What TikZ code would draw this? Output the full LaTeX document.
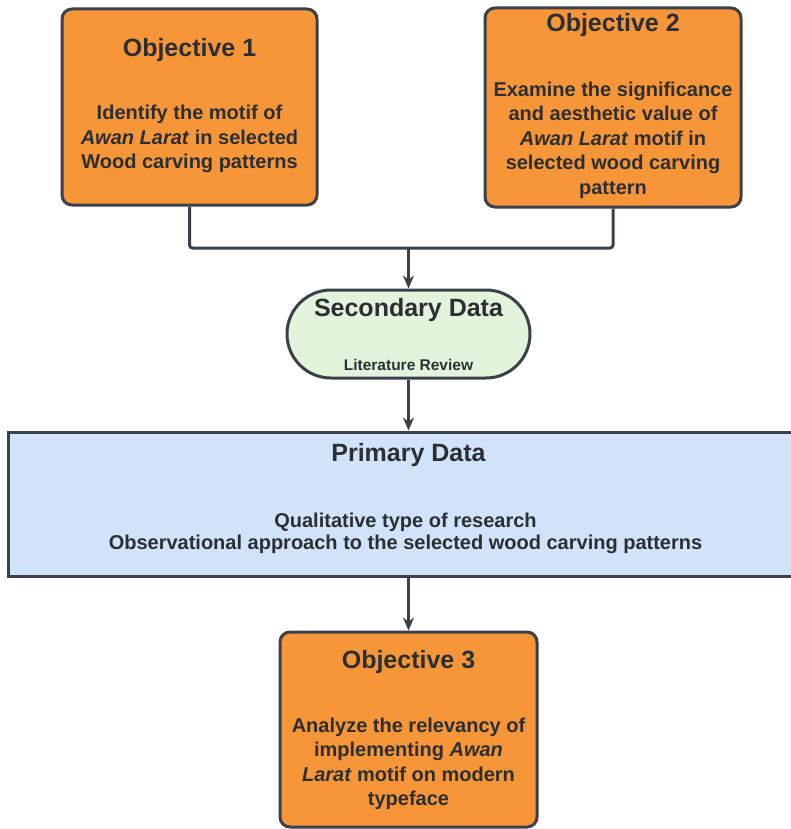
\documentclass[tikz,border=0pt]{standalone}
\usepackage{fontspec}
\setmainfont{Liberation Sans}
\usetikzlibrary{arrows.meta}
\definecolor{boxorange}{HTML}{F79638}
\definecolor{boxgreen}{HTML}{E2F5DC}
\definecolor{boxblue}{HTML}{D0E3F9}
\definecolor{linecol}{HTML}{3B414B}
\definecolor{txtcol}{HTML}{2B2F33}
\begin{document}
\begin{tikzpicture}[x=1pt,y=-1pt,
  objbox/.style={draw=linecol,line width=3pt,fill=boxorange,rounded corners=10pt,inner sep=0pt},
  secbox/.style={draw=linecol,line width=3pt,fill=boxgreen,rounded corners=44pt,inner sep=0pt},
  primbox/.style={draw=linecol,line width=3pt,fill=boxblue,inner sep=0pt},
  titletxt/.style={text=txtcol,font=\fontsize{25}{30}\selectfont\bfseries,inner sep=0pt},
  bodytxt/.style={text=txtcol,font=\fontsize{20}{24.5}\selectfont\bfseries,align=center,inner sep=0pt},
  conn/.style={draw=linecol,line width=3pt,rounded corners=3pt},
  arr/.style={conn,-{Stealth[length=13pt,width=11pt]}}
]
\useasboundingbox (0,0) rectangle (790,829);
% boxes
\node[objbox,minimum width=255pt,minimum height=196pt] (o1) at (189.5,107) {};
\node[objbox,minimum width=256pt,minimum height=199pt] (o2) at (613,107.5) {};
\node[secbox,minimum width=243pt,minimum height=88pt] (sec) at (408.5,334) {};
\node[primbox,minimum width=795pt,minimum height=144pt] (prim) at (405.5,504) {};
\node[objbox,minimum width=257pt,minimum height=195pt] (o3) at (408.5,729.5) {};
% texts
\node[titletxt] (o1t) at (189.5,50) {Objective 1};
\node[bodytxt] (o1b) at (189.5,139) {Identify the motif of\\\textit{Awan Larat} in selected\\Wood carving patterns};
\node[titletxt] (o2t) at (613,25) {Objective 2};
\node[bodytxt] (o2b) at (613,140) {Examine the significance\\and aesthetic value of\\\textit{Awan Larat} motif in\\selected wood carving\\pattern};
\node[titletxt] (st) at (408.5,310) {Secondary Data};
\node[text=txtcol,font=\fontsize{15.5}{18}\selectfont\bfseries,inner sep=0pt] (sb) at (408.5,365) {Literature Review};
\node[titletxt] (pt) at (408.5,455) {Primary Data};
\node[text=txtcol,font=\fontsize{20}{22}\selectfont\bfseries,align=center,inner sep=0pt] (pb) at (405.5,533) {Qualitative type of research\\Observational approach to the selected wood carving patterns};
\node[titletxt] (o3t) at (408.5,662) {Objective 3};
\node[bodytxt] (o3b) at (408.5,764) {Analyze the relevancy of\\implementing \textit{Awan}\\\textit{Larat} motif on modern\\typeface};
% connectors
\coordinate (j) at (408.5,248);
\draw[conn] (o1.south) |- (j) -| (o2.south);
\draw[arr] (j) -- (sec.north);
\draw[arr] (sec.south) -- (sec.south |- prim.north);
\draw[arr] (o3.north |- prim.south) -- (o3.north);
\end{tikzpicture}
\end{document}
